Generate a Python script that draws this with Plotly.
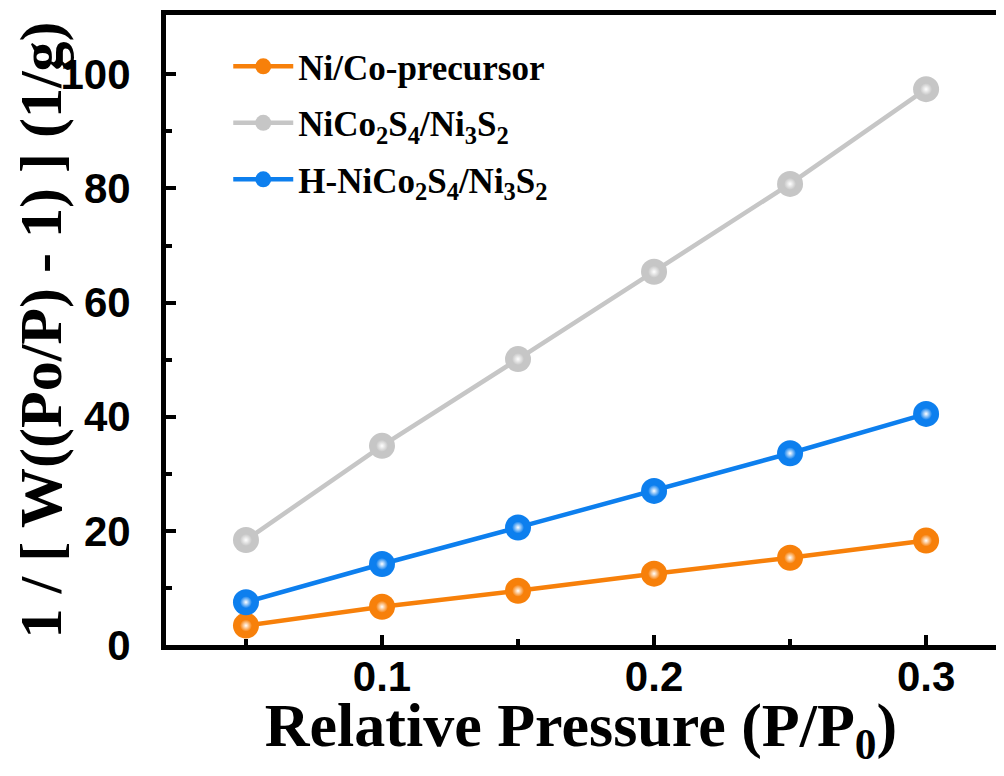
import plotly.graph_objects as go

pressure = [0.05, 0.10, 0.15, 0.20, 0.25, 0.30]
ni_co_precursor = [3.4, 6.7, 9.5, 12.5, 15.3, 18.3]
nico2s4_ni3s2 = [18.4, 34.9, 50.1, 65.4, 80.8, 97.4]
h_nico2s4_ni3s2 = [7.5, 14.2, 20.6, 27.0, 33.6, 40.5]

names = ["Ni/Co-precursor",
         "NiCo<sub>2</sub>S<sub>4</sub>/Ni<sub>3</sub>S<sub>2</sub>",
         "H-NiCo<sub>2</sub>S<sub>4</sub>/Ni<sub>3</sub>S<sub>2</sub>"]
colors = ["#F7800A", "#C6C6C6", "#0D7FEE"]
series = [ni_co_precursor, nico2s4_ni3s2, h_nico2s4_ni3s2]

fig = go.Figure()
for i, (name, col, vals) in enumerate(zip(names, colors, series)):
    fig.add_trace(go.Scatter(
        x=pressure, y=vals, name=name, mode="lines+markers", legendgroup=f"g{i}",
        line=dict(color=col, width=4.5),
        marker=dict(size=26, color=col, line=dict(width=0)),
    ))
    fig.add_trace(go.Scatter(
        x=pressure, y=vals, mode="markers", showlegend=False, hoverinfo="skip",
        legendgroup=f"g{i}",
        marker=dict(size=12, color=col,
                    gradient=dict(type="radial", color="#FFFFFF"),
                    line=dict(width=0)),
    ))

fig.update_layout(
    width=988, height=760,
    margin=dict(l=158, r=0, t=7, b=123),
    paper_bgcolor="white", plot_bgcolor="white",
    showlegend=True,
    legend=dict(x=0.075, y=0.965, xanchor="left", yanchor="top",
                bgcolor="rgba(0,0,0,0)", tracegroupgap=8, itemwidth=60,
                font=dict(family="Liberation Serif", size=35, color="black", weight="bold")),
    font=dict(family="Liberation Sans", color="black"),
)
fig.update_xaxes(
    range=[0.0206, 0.3257], tickvals=[0.1, 0.2, 0.3], ticktext=["0.1", "0.2", "0.3"],
    ticks="inside", ticklen=10, tickwidth=4, tickcolor="black",
    minor=dict(tickvals=[0.05, 0.15, 0.25], ticks="inside", ticklen=6, tickwidth=4, tickcolor="black"),
    showline=True, linewidth=5, linecolor="black", mirror=True,
    showgrid=False, zeroline=False, automargin=True, ticklabelstandoff=-9,
    tickfont=dict(family="Liberation Sans", size=42, color="black", weight="bold"),
    title=dict(text="Relative Pressure (P/P<sub>0</sub>)", standoff=6,
               font=dict(family="Liberation Serif", size=62, color="black", weight="bold")),
)
fig.update_yaxes(
    range=[0, 110.4], tickvals=[0, 20, 40, 60, 80, 100],
    ticks="inside", ticklen=10, tickwidth=4, tickcolor="black",
    minor=dict(tickvals=[10, 30, 50, 70, 90], ticks="inside", ticklen=6, tickwidth=4, tickcolor="black"),
    showline=True, linewidth=5, linecolor="black", mirror=False,
    showgrid=False, zeroline=False, automargin=True, ticklabelstandoff=22,
    tickfont=dict(family="Liberation Sans", size=42, color="black", weight="bold"),
    title=dict(text="1 / [ W((Po/P) - 1) ] (1/g)", standoff=4,
               font=dict(family="Liberation Serif", size=60, color="black", weight="bold")),
)

fig.write_html("out.html")
